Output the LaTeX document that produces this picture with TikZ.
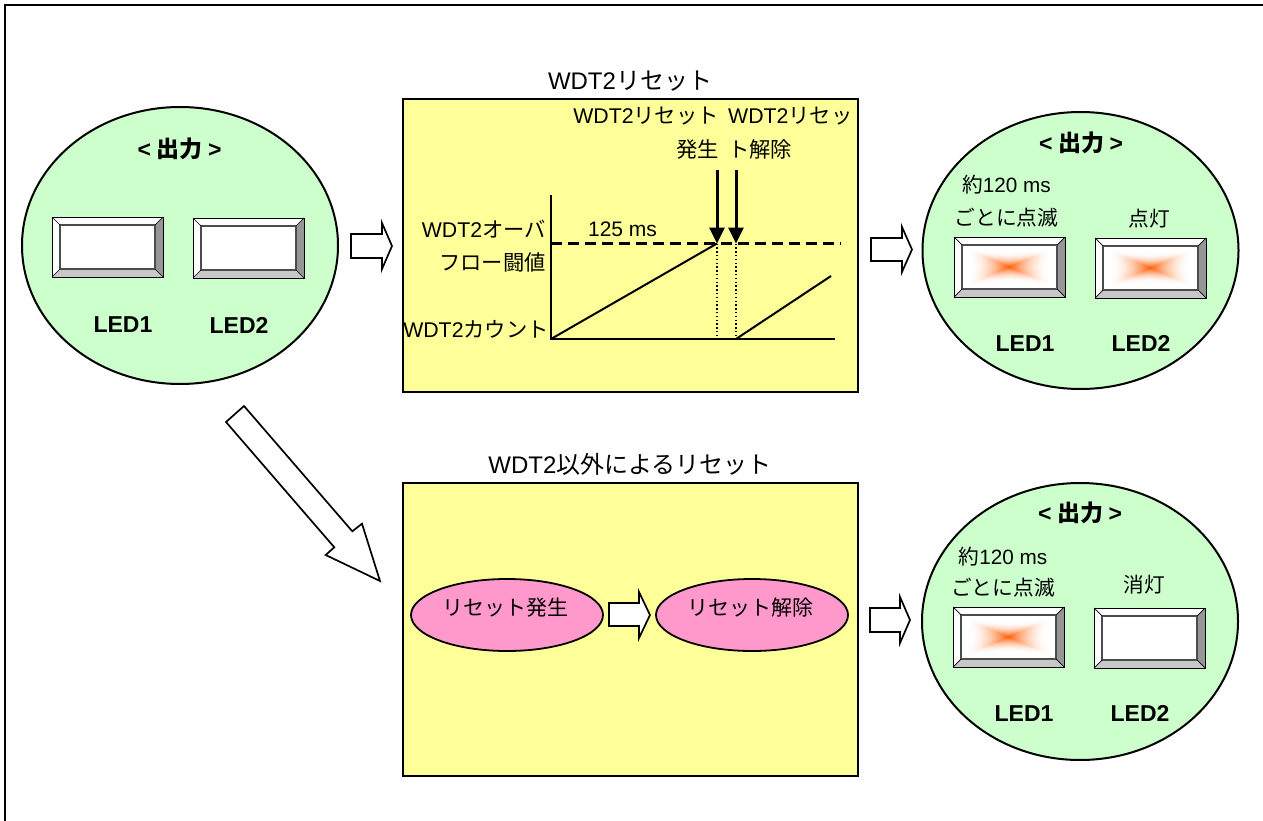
\documentclass[tikz,border=0pt]{standalone}
\usepackage{fontspec}
\setmainfont{Liberation Sans}
\newfontfamily\jp{Noto Sans CJK JP}
\usetikzlibrary{shapes.geometric,arrows.meta}
\definecolor{oval}{HTML}{CCFFCC}
\definecolor{panel}{HTML}{FFFF99}
\definecolor{pinkoval}{HTML}{FF99CC}
\definecolor{glow}{HTML}{FF5A00}
\definecolor{bevR}{HTML}{969696}
\definecolor{bevB}{HTML}{C8C8C8}
\tikzset{
  outoval/.style={ellipse,draw=black,fill=oval,line width=2pt,inner sep=0pt,minimum width=316pt,minimum height=277pt},
  panelbox/.style={rectangle,draw=black,fill=panel,line width=2.6pt,inner sep=0pt,minimum width=455pt,minimum height=293pt},
  pinkbox/.style={ellipse,draw=black,fill=pinkoval,line width=1.8pt,inner sep=0pt,minimum width=192pt,minimum height=72pt},
  blockarrow/.style={draw=black,fill=white,line width=1.7pt,line join=miter},
  label/.style={inner sep=0pt,font=\fontsize{20.7}{33}\selectfont},
  boldlabel/.style={inner sep=0pt,font=\fontsize{23}{26}\selectfont\bfseries},
  chart/.style={line width=2pt},
  thickarrow/.style={line width=3pt,-{Triangle[width=15pt,length=16pt]}},
}
\newcommand\headtext{<\hspace{5.5pt}{\jp 出力}\hspace{5.5pt}>}
% x, y (top-left), 1 = lit
\newcommand\ledbox[3]{%
  \begin{scope}[shift={(#1,#2)}]
    \fill[white] (0,0) rectangle (111,60);
    \fill[bevR] (111,0) -- (103,8) -- (103,52) -- (111,60) -- cycle;
    \fill[bevB] (0,60) -- (8,52) -- (103,52) -- (111,60) -- cycle;
    \ifnum#3=1
      \foreach \i in {0,...,27}{
        \pgfmathsetmacro\t{1-\i/28}
        \pgfmathsetmacro\p{100*(1-\t)^1.8}
        \pgfmathsetmacro\w{43*\t}
        \pgfmathsetmacro\h{18*\t}
        \fill[glow!\p!white] (55.5-\w,30-\h) -- (55.5-0.72*\w,30-0.93*\h) -- (55.5,30-0.8*\h) -- (55.5+0.72*\w,30-0.93*\h) -- (55.5+\w,30-\h)
          -- (55.5+0.9*\w,30) -- (55.5+\w,30+\h) -- (55.5+0.72*\w,30+0.93*\h) -- (55.5,30+0.8*\h) -- (55.5-0.72*\w,30+0.93*\h) -- (55.5-\w,30+\h) -- (55.5-0.9*\w,30) -- cycle;
      }
    \fi
    \draw[black!70,line width=1.1pt] (8,8) rectangle (103,52);
    \draw[black,line width=.7pt] (0,0) -- (8,8) (111,0) -- (103,8) (0,60) -- (8,52) (111,60) -- (103,52);
    \draw[black,line width=1pt] (0,0) rectangle (111,60);
  \end{scope}}
\begin{document}
\begin{tikzpicture}[x=1pt,y=-1pt]
\useasboundingbox (0,0) rectangle (1263,821);
\fill[white] (0,0) rectangle (1263,821);
% outer frame
\coordinate (fa) at (5,821); \coordinate (fb) at (5,5); \coordinate (fc) at (1263,5);
\draw[line width=1.8pt] (fa) -- (fb) -- (fc);

% left output
\node[outoval] (ovalL) at (180,245.5) {};
\node[boldlabel] (headL) at (179.5,149) {\headtext};
\ledbox{52}{217}{0}
\ledbox{193}{218}{0}
\node[boldlabel] (l1L) at (123,325) {LED1};
\node[boldlabel] (l2L) at (239,325) {LED2};

% arrows
\draw[blockarrow] (351,234) -- (382,234) -- (382,223) -- (392,246) -- (382,269) -- (382,258) -- (351,258) -- cycle;
\draw[blockarrow] (871,238) -- (902,238) -- (902,227) -- (912,249.5) -- (902,272) -- (902,261) -- (871,261) -- cycle;
\draw[blockarrow] (870,608) -- (900,608) -- (900,597) -- (910,620) -- (900,643) -- (900,632) -- (870,632) -- cycle;
\draw[blockarrow] (244,406) -- (352.3,531.3) -- (362,523.7) -- (380,581) -- (325.7,555) -- (334.3,547.3) -- (226,422) -- cycle;

% top panel
\node[label,font=\fontsize{24}{33}\selectfont] (titleA) at (630,81) {WDT2{\jp リセット}};
\node[panelbox] (panelA) at (630.5,245.5) {};
\node[label,font=\fontsize{21.3}{34}\selectfont,align=right,anchor=east] (rst) at (719,133) {WDT2{\jp リセット}\\{\jp 発生}};
\node[label,font=\fontsize{21.3}{34}\selectfont,align=left,anchor=west] (rel) at (728,133) {WDT2{\jp リセッ}\\{\jp ト解除}};
\node[label,font=\fontsize{21.3}{33}\selectfont,align=right,anchor=east] (ovf) at (546,246.5) {WDT2{\jp オーバ}\\{\jp フロー闘値}};
\node[label,font=\fontsize{21.3}{33}\selectfont,anchor=east] (cnt) at (549,329) {WDT2{\jp カウント}};
\node[label,font=\fontsize{21}{24}\selectfont] (ms) at (622.5,229) {125 ms};
\coordinate (axtop) at (551,195);
\coordinate (org) at (551,339);
\coordinate (xend) at (835,339);
\coordinate (th0) at (551,243.5);
\coordinate (th1) at (841,243.5);
\coordinate (p1) at (717,243.5);
\coordinate (p2) at (736,243.5);
\coordinate (q1) at (717,336);
\coordinate (q2) at (736,339);
\coordinate (r2) at (831,276);
\coordinate (a1) at (717,170);
\coordinate (a2) at (736,170);
\draw[chart] (axtop) -- (org) -- (xend);
\draw[chart] (org) -- (p1);
\draw[chart] (q2) -- (r2);
\draw[line width=2.5pt,dash pattern=on 11pt off 6pt] (th0) -- (th1);
\draw[line width=1.1pt,dash pattern=on 1.5pt off 2.3pt] (p1) -- (q1);
\draw[line width=1.1pt,dash pattern=on 1.5pt off 2.3pt] (p2) -- (q2);
\draw[thickarrow] (a1) -- (p1);
\draw[thickarrow] (a2) -- (p2);

% right top output
\node[outoval] (ovalR) at (1080.5,250.5) {};
\node[boldlabel] (headR) at (1081,143) {\headtext};
\node[label,align=center] (blinkR) at (1006.5,201.5) {{\jp 約}120 ms\\{\jp ごとに点滅}};
\node[label] (onR) at (1149,219) {\jp 点灯};
\ledbox{954}{237}{1}
\ledbox{1095}{238}{1}
\node[boldlabel] (l1R) at (1025,343.5) {LED1};
\node[boldlabel] (l2R) at (1141,343.5) {LED2};

% bottom panel
\node[label,font=\fontsize{24}{33}\selectfont] (titleB) at (630,464) {WDT2{\jp 以外によるリセット}};
\node[panelbox] (panelB) at (630.5,629.5) {};
\node[pinkbox] (ra) at (507,615) {};
\node[pinkbox] (rb) at (752,615) {};
\node[label,font=\fontsize{21}{33}\selectfont] (rat) at (505.5,608) {\jp リセット発生};
\node[label,font=\fontsize{21}{33}\selectfont] (rbt) at (750,608) {\jp リセット解除};
\draw[blockarrow] (609,603) -- (639,603) -- (639,592) -- (650,615) -- (639,638) -- (639,626) -- (609,626) -- cycle;

% right bottom output
\node[outoval] (ovalS) at (1080,621.5) {};
\node[boldlabel] (headS) at (1080,513) {\headtext};
\node[label,font=\fontsize{20.7}{31}\selectfont,align=center] (blinkS) at (1003,572.5) {{\jp 約}120 ms\\{\jp ごとに点滅}};
\node[label] (offS) at (1144,585) {\jp 消灯};
\ledbox{953}{607}{1}
\ledbox{1094}{608}{0}
\node[boldlabel] (l1S) at (1024,713.5) {LED1};
\node[boldlabel] (l2S) at (1140,713.5) {LED2};
\end{tikzpicture}
\end{document}
